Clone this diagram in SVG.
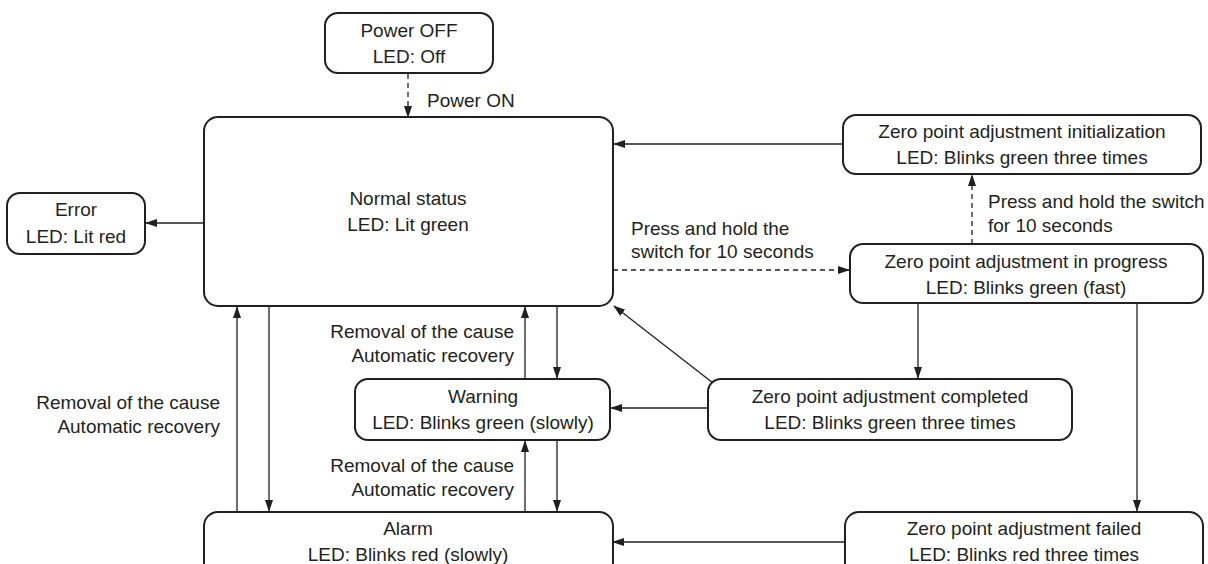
<svg xmlns="http://www.w3.org/2000/svg" width="1208" height="564" viewBox="0 0 1208 564">
<style>
.box{fill:#fff;stroke:#231f20;stroke-width:2}
.t{font-family:"Liberation Sans",Arial,sans-serif;font-size:19px;fill:#231f20;text-anchor:middle}
.l{font-family:"Liberation Sans",Arial,sans-serif;font-size:19px;fill:#231f20}
.e{text-anchor:end}
.c{fill:none;stroke:#231f20;stroke-width:1.3;marker-end:url(#ah)}
.d{stroke-dasharray:5,4}
</style>
<defs>
<marker id="ah" markerUnits="userSpaceOnUse" markerWidth="12" markerHeight="8" refX="11" refY="4" orient="auto">
<path d="M0,0 L12,4 L0,8 z" fill="#231f20"/>
</marker>
</defs>
<g id="connectors">
<line class="c d" x1="408" y1="74" x2="408" y2="117"/>
<line class="c" x1="204" y1="223" x2="146" y2="223"/>
<line class="c" x1="843" y1="144" x2="614" y2="144"/>
<line class="c d" x1="972" y1="244" x2="972" y2="175"/>
<line class="c d" x1="613" y1="270" x2="849" y2="270"/>
<line class="c" x1="918" y1="303" x2="918" y2="378"/>
<line class="c" x1="1137" y1="303" x2="1137" y2="511"/>
<line class="c" x1="713" y1="383" x2="614" y2="306"/>
<line class="c" x1="708" y1="408" x2="611" y2="408"/>
<line class="c" x1="845" y1="542" x2="613" y2="542"/>
<line class="c" x1="237" y1="512" x2="237" y2="307"/>
<line class="c" x1="269" y1="306" x2="269" y2="511"/>
<line class="c" x1="525" y1="379" x2="525" y2="307"/>
<line class="c" x1="557" y1="306" x2="557" y2="378"/>
<line class="c" x1="525" y1="512" x2="525" y2="441"/>
<line class="c" x1="557" y1="440" x2="557" y2="511"/>
<text class="l" x="427" y="107">Power ON</text>
<text class="l" x="631" y="235">Press and hold the</text>
<text class="l" x="631" y="258">switch for 10 seconds</text>
<text class="l" x="988" y="208">Press and hold the switch</text>
<text class="l" x="988" y="232">for 10 seconds</text>
<text class="l e" x="514" y="338">Removal of the cause</text>
<text class="l e" x="514" y="362">Automatic recovery</text>
<text class="l e" x="514" y="472">Removal of the cause</text>
<text class="l e" x="514" y="496">Automatic recovery</text>
<text class="l e" x="220" y="409">Removal of the cause</text>
<text class="l e" x="220" y="433">Automatic recovery</text>
</g>
<g id="power_off">
<rect class="box" x="325" y="13" width="168" height="60" rx="13"/>
<text class="t" x="409" y="37">Power OFF</text>
<text class="t" x="409" y="63">LED: Off</text>
</g>
<g id="normal">
<rect class="box" x="204" y="117" width="409" height="189" rx="14"/>
<text class="t" x="408" y="205">Normal status</text>
<text class="t" x="408" y="231">LED: Lit green</text>
</g>
<g id="error">
<rect class="box" x="7" y="193" width="138" height="61" rx="13"/>
<text class="t" x="76" y="216">Error</text>
<text class="t" x="76" y="243">LED: Lit red</text>
</g>
<g id="zero_init">
<rect class="box" x="843" y="115" width="358" height="59" rx="13"/>
<text class="t" x="1022" y="138">Zero point adjustment initialization</text>
<text class="t" x="1022" y="164">LED: Blinks green three times</text>
</g>
<g id="zero_progress">
<rect class="box" x="850" y="244" width="353" height="59" rx="13"/>
<text class="t" x="1026" y="268">Zero point adjustment in progress</text>
<text class="t" x="1026" y="294">LED: Blinks green (fast)</text>
</g>
<g id="zero_completed">
<rect class="box" x="708" y="379" width="364" height="61" rx="13"/>
<text class="t" x="890" y="403">Zero point adjustment completed</text>
<text class="t" x="890" y="429">LED: Blinks green three times</text>
</g>
<g id="warning">
<rect class="box" x="355" y="379" width="255" height="61" rx="13"/>
<text class="t" x="483" y="403">Warning</text>
<text class="t" x="483" y="429">LED: Blinks green (slowly)</text>
</g>
<g id="alarm">
<rect class="box" x="204" y="512" width="409" height="70" rx="14"/>
<text class="t" x="408" y="535">Alarm</text>
<text class="t" x="408" y="561">LED: Blinks red (slowly)</text>
</g>
<g id="zero_failed">
<rect class="box" x="845" y="512" width="358" height="70" rx="14"/>
<text class="t" x="1024" y="535">Zero point adjustment failed</text>
<text class="t" x="1024" y="561">LED: Blinks red three times</text>
</g>
</svg>
